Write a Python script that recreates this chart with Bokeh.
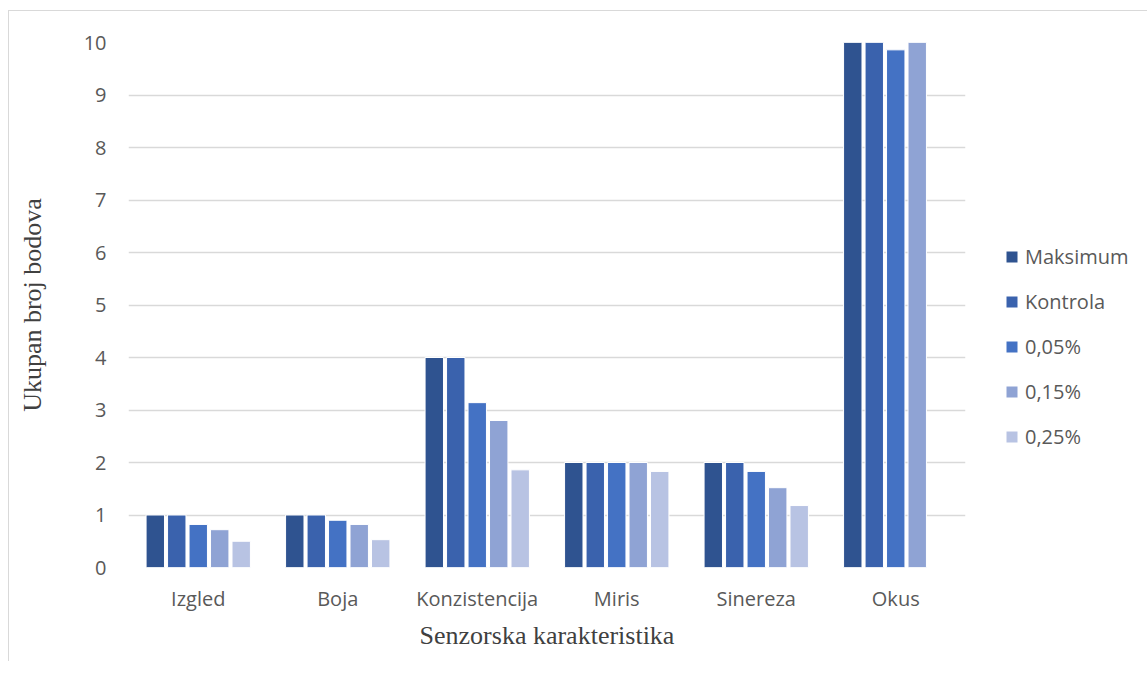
import math
from bokeh.plotting import figure
from bokeh.models import ColumnDataSource, Legend, LegendItem, Range1d, FactorRange, FixedTicker
from bokeh.transform import dodge
from bokeh.layouts import column
from bokeh.embed import file_html
from bokeh.resources import INLINE

categories = ["Izgled", "Boja", "Konzistencija", "Miris", "Sinereza", "Okus"]
series = ["Maksimum", "Kontrola", "0,05%", "0,15%", "0,25%"]
maksimum = [1, 1, 4, 2, 2, 10]
kontrola = [1, 1, 4, 2, 2, 10]
c005 = [0.82, 0.90, 3.14, 2.00, 1.83, 9.86]
c015 = [0.72, 0.82, 2.80, 2.00, 1.52, 10]
c025 = [0.50, 0.53, 1.86, 1.83, 1.18, float("nan")]
colors = ["#2f5390", "#3a62ad", "#4472c4", "#8fa3d4", "#b8c3e3"]
y_ticks = list(range(0, 11))

src = ColumnDataSource(dict(cat=categories, s0=maksimum, s1=kontrola, s2=c005, s3=c015, s4=c025))

p = figure(x_range=FactorRange(*categories), y_range=Range1d(0, 10),
           width=1131, height=661, output_backend="svg", toolbar_location=None,
           min_border_left=119, min_border_right=174, min_border_top=31, min_border_bottom=94)
p.frame_width = 837
p.frame_height = 525
p.outline_line_color = None
p.background_fill_color = "white"

pitch = 0.154
offsets = [-2 * pitch, -pitch, 0, pitch, 2 * pitch]
items = []
for i, (name, col) in enumerate(zip(series, ["s0", "s1", "s2", "s3", "s4"])):
    r = p.vbar(x=dodge("cat", offsets[i], range=p.x_range), top=col, width=0.132, bottom=0,
               source=src, fill_color=colors[i], line_color="white", line_width=1)
    items.append(LegendItem(label=name, renderers=[r]))

p.yaxis.ticker = FixedTicker(ticks=y_ticks)
p.ygrid.grid_line_color = "#d9d9d9"
p.ygrid.grid_line_width = 1.5
p.xgrid.grid_line_color = None

for ax in (p.xaxis[0], p.yaxis[0]):
    ax.axis_line_color = None
    ax.major_tick_line_color = None
    ax.minor_tick_line_color = None
    ax.major_label_text_font = "Open Sans"
    ax.major_label_text_font_size = "20px"
    ax.major_label_text_color = "#595959"
    ax.axis_label_text_font = "Liberation Serif"
    ax.axis_label_text_font_style = "normal"
    ax.axis_label_text_font_size = "26px"
    ax.axis_label_text_color = "#404040"

p.xaxis.axis_label = "Senzorska karakteristika"
p.yaxis.axis_label = "Ukupan broj bodova"
p.xaxis.major_label_standoff = 11
p.xaxis.axis_label_standoff = 6
p.yaxis.major_label_standoff = 16
p.yaxis.axis_label_standoff = 34

legend = Legend(items=items, location=(39, 117), orientation="vertical",
                border_line_color=None, background_fill_alpha=0,
                label_text_font="Open Sans", label_text_font_size="20px",
                label_text_color="#595959", glyph_width=15, glyph_height=15,
                label_height=20, label_standoff=6, spacing=18, padding=0, margin=0)
p.add_layout(legend, "right")

layout = column(p, styles={"margin-left": "8px", "margin-top": "10px",
                           "border-left": "1px solid #d9d9d9", "border-top": "1px solid #d9d9d9"})
open("out.html", "w").write(file_html(layout, INLINE))
